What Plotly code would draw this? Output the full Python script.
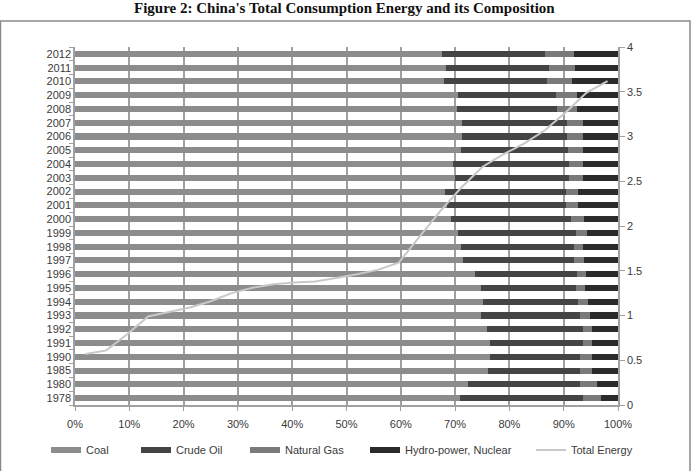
import plotly.graph_objects as go

years = ["1978", "1980", "1985", "1990", "1991", "1992", "1993", "1994", "1995",
         "1996", "1997", "1998", "1999", "2000", "2001", "2002", "2003", "2004",
         "2005", "2006", "2007", "2008", "2009", "2010", "2011", "2012"]
coal = [70.9, 72.3, 76.1, 76.4, 76.4, 75.9, 74.8, 75.1, 74.7, 73.6, 71.5, 71.0, 70.6,
        69.3, 68.5, 68.1, 69.9, 69.7, 71.0, 71.2, 71.2, 70.4, 70.5, 68.0, 68.4, 67.6]
crude_oil = [22.7, 20.7, 16.9, 16.6, 17.1, 17.6, 18.2, 17.5, 17.5, 18.8, 20.4, 20.9, 21.6,
             22.0, 21.9, 22.3, 21.1, 21.2, 19.7, 19.4, 19.4, 18.3, 18.0, 19.0, 18.9, 19.0]
natural_gas = [3.3, 3.1, 2.3, 2.2, 1.8, 1.7, 1.9, 1.8, 1.8, 1.7, 1.9, 1.7, 2.1,
               2.5, 2.2, 2.3, 2.6, 2.6, 2.8, 2.9, 2.9, 3.7, 3.9, 4.6, 4.7, 5.3]
hydro_nuclear = [3.1, 3.9, 4.7, 4.8, 4.7, 4.8, 5.1, 5.6, 6.0, 5.9, 6.2, 6.4, 5.7,
                 6.2, 7.4, 7.3, 6.4, 6.5, 6.5, 6.5, 6.5, 7.6, 7.6, 8.4, 8.0, 8.1]
total_energy = [0.57, 0.61, 0.79, 0.99, 1.04, 1.09, 1.16, 1.25, 1.31, 1.35, 1.37, 1.38, 1.42,
                1.46, 1.51, 1.59, 1.88, 2.17, 2.43, 2.66, 2.80, 2.92, 3.07, 3.27, 3.49, 3.62]
pct_ticks = [0, 10, 20, 30, 40, 50, 60, 70, 80, 90, 100]
pct_labels = ["0%", "10%", "20%", "30%", "40%", "50%", "60%", "70%", "80%", "90%", "100%"]

series = [("Coal", coal, "#8c8c8c"),
          ("Crude Oil", crude_oil, "#444444"),
          ("Natural Gas", natural_gas, "#7a7a7a"),
          ("Hydro-power, Nuclear", hydro_nuclear, "#2b2b2b")]

FONT = "Liberation Sans Narrow, Arial Narrow, Liberation Sans, Arial, sans-serif"
TXT = "#3a3a3a"
GRID = "#a0a0a0"
FS = 11

# plot area in pixels
L, R, T, B = 75, 618, 47, 405
W, H = 694, 471
def px(x):
    return (x - L) / (R - L)
def py(y):
    return (B - y) / (B - T)

fig = go.Figure()
legend_names = ["legend", "legend2", "legend3", "legend4", "legend5"]
for k, (name, vals, col) in enumerate(series):
    fig.add_trace(go.Bar(y=years, x=vals, orientation="h", name=name,
                         marker=dict(color=col, line=dict(width=0)),
                         showlegend=False))
    # legend swatch (no data)
    fig.add_trace(go.Scatter(x=[None], y=[None], mode="lines", name=name,
                             line=dict(color=col, width=6),
                             legend=legend_names[k]))

fig.add_trace(go.Scatter(x=years, y=total_energy, mode="lines", name="Total Energy",
                         xaxis="x2", yaxis="y2",
                         line=dict(color="#c8c8c8", width=2),
                         legend="legend5"))

swatch_x = [51, 141, 250, 370, 536]
leg_common = dict(orientation="h", yanchor="middle", y=py(450), xanchor="left",
                  bgcolor="rgba(0,0,0,0)", borderwidth=0,
                  font=dict(family=FONT, size=FS, color=TXT), itemwidth=30)
legends = {}
for k, ln in enumerate(legend_names):
    legends[ln] = dict(leg_common, x=px(swatch_x[k] - 5))

fig.update_layout(
    width=W, height=H,
    margin=dict(l=L, r=W - R, t=T, b=H - B, autoexpand=False),
    paper_bgcolor="white", plot_bgcolor="white",
    barmode="stack", bargap=0.56,
    font=dict(family=FONT, size=FS, color=TXT),
    xaxis=dict(range=[0, 100], tickmode="array", tickvals=pct_ticks, ticktext=pct_labels,
               showgrid=True, gridcolor=GRID, gridwidth=1.5,
               showline=True, linecolor=GRID, linewidth=1.5,
               ticks="outside", ticklen=4, tickcolor=GRID, zeroline=False,
               ticklabelstandoff=4, automargin=False,
               tickfont=dict(family=FONT, size=FS, color=TXT), fixedrange=True),
    yaxis=dict(type="category", categoryorder="array", categoryarray=years,
               range=[-0.5, len(years) - 0.5], tickmode="linear", tick0=0, dtick=1,
               showline=True, linecolor=GRID, linewidth=1.5, automargin=False,
               ticks="outside", ticklen=4, tickcolor=GRID, tickson="boundaries",
               showgrid=False, tickfont=dict(family=FONT, size=FS, color=TXT)),
    xaxis2=dict(type="category", categoryorder="array", categoryarray=years,
                range=[-0.5, len(years) - 0.5], overlaying="x", anchor="y",
                visible=False),
    yaxis2=dict(range=[0, 4], dtick=0.5, overlaying="y", side="right", anchor="x",
                showgrid=False, zeroline=False, showline=True, linecolor=GRID,
                linewidth=1.5, ticks="outside", ticklen=5, tickcolor=GRID,
                automargin=False,
                tickfont=dict(family=FONT, size=FS, color=TXT)),
    showlegend=True,
    **legends,
)

# outer frame
fig.add_shape(type="rect", xref="paper", yref="paper",
              x0=px(0.5), x1=px(690), y0=py(475), y1=py(21),
              line=dict(color="#8a8a8a", width=1.5), fillcolor="rgba(0,0,0,0)",
              layer="below")

fig.add_annotation(text="<b>Figure 2: China's Total Consumption Energy and its Composition</b>",
                   xref="paper", yref="paper", x=px(344), y=py(18),
                   xanchor="center", yanchor="bottom", showarrow=False,
                   font=dict(family="Liberation Serif, Times New Roman, serif", size=15,
                             color="#111111"))

fig.write_html("out.html")
